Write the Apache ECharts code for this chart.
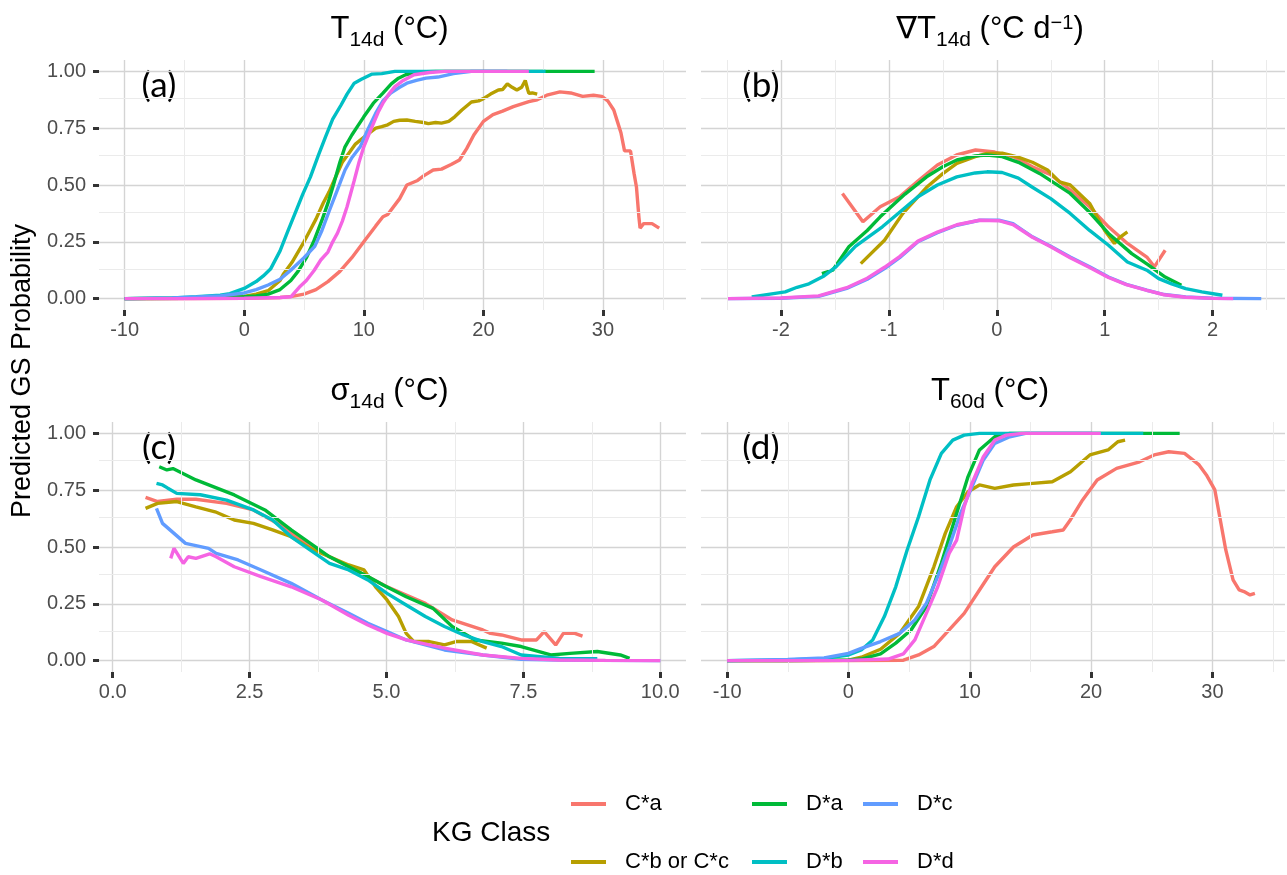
<!DOCTYPE html>
<html>
<head>
<meta charset="utf-8">
<script src="https://cdn.jsdelivr.net/npm/echarts@6/dist/echarts.min.js"></script>
<style>html,body{margin:0;padding:0;background:#fff}#c{width:1287px;height:875px}</style>
</head>
<body>
<div id="c"></div>
<script>
// ---------- categories ----------
const classes = ['C*a', 'C*b or C*c', 'D*a', 'D*b', 'D*c', 'D*d'];
const classColors = ['#F8766D', '#B79F00', '#00BA38', '#00BFC4', '#619CFF', '#F564E3'];

// ---------- tick values ----------
const yTicks = [0, 0.25, 0.5, 0.75, 1];
const yMinor = [0.125, 0.375, 0.625, 0.875];
const xTicksA = [-10, 0, 10, 20, 30];
const xMinorA = [-5, 5, 15, 25, 35];
const xTicksB = [-2, -1, 0, 1, 2];
const xMinorB = [-2.5, -1.5, -0.5, 0.5, 1.5, 2.5];
const xTicksC = [0, 2.5, 5, 7.5, 10];
const xMinorC = [1.25, 3.75, 6.25, 8.75];
const xTicksD = [-10, 0, 10, 20, 30];
const xMinorD = [-5, 5, 15, 25, 35];

// ---------- panel (a) T14d ----------
const a_Ca = [[-10,0],[-5,0],[0,0.002],[3,0.005],[4,0.01],[5,0.02],[6,0.04],[7,0.075],[8,0.12],[9,0.18],[10,0.25],[11,0.32],[11.6,0.36],[12,0.37],[13,0.44],[13.6,0.5],[14.5,0.52],[15,0.54],[15.8,0.566],[16.5,0.57],[17.3,0.59],[18,0.61],[18.6,0.66],[19.2,0.72],[20,0.78],[20.8,0.81],[21.6,0.825],[22.5,0.845],[23.8,0.867],[24.5,0.875],[25.3,0.895],[26.4,0.91],[27.3,0.905],[28.3,0.89],[29.2,0.895],[29.9,0.89],[30.4,0.87],[30.9,0.83],[31.2,0.78],[31.5,0.73],[31.8,0.65],[32.3,0.65],[32.6,0.55],[32.8,0.49],[33.0,0.36],[33.1,0.31],[33.4,0.33],[34.1,0.33],[34.7,0.31]];
const a_Cbc = [[-10,0],[-5,0.002],[-2,0.005],[0,0.01],[1,0.02],[2,0.035],[3,0.08],[3.3,0.11],[4,0.16],[5,0.25],[5.5,0.3],[6,0.35],[6.6,0.42],[7.1,0.47],[7.6,0.53],[8.2,0.6],[8.75,0.64],[9.3,0.68],[10,0.71],[10.5,0.73],[11,0.75],[11.5,0.757],[12,0.765],[12.5,0.78],[13,0.785],[13.6,0.786],[14.3,0.78],[15,0.775],[15.4,0.77],[16,0.775],[16.5,0.772],[17.1,0.78],[17.6,0.8],[18.2,0.83],[19,0.865],[19.6,0.87],[20,0.88],[20.6,0.9],[21.25,0.918],[21.6,0.92],[22,0.945],[22.4,0.93],[22.8,0.918],[23.2,0.93],[23.5,0.96],[23.7,0.92],[23.8,0.904],[24.1,0.905],[24.5,0.9]];
const a_Da = [[-10,0],[-5,0.002],[-2,0.004],[0,0.008],[1,0.012],[2,0.02],[3,0.04],[3.9,0.08],[4.5,0.12],[5.2,0.18],[5.8,0.25],[6.5,0.345],[7,0.42],[7.46,0.5],[8,0.6],[8.43,0.668],[9,0.72],[9.5,0.76],[10,0.8],[10.8,0.86],[11.6,0.904],[12.3,0.945],[12.9,0.97],[13.5,0.985],[14.5,0.997],[16,1],[20,1],[25,1],[29.3,1]];
const a_Db = [[-10,0],[-6,0.003],[-4,0.008],[-2,0.015],[-1.2,0.022],[0,0.045],[1,0.075],[1.6,0.1],[2.2,0.13],[3,0.21],[3.6,0.29],[4.26,0.376],[4.9,0.46],[5.54,0.536],[6.2,0.63],[6.8,0.712],[7.4,0.79],[8.1,0.852],[8.6,0.9],[9.2,0.948],[9.8,0.965],[10.7,0.988],[11.5,0.99],[12.6,1],[15,1],[20,1],[25.2,1]];
const a_Dc = [[-10,0],[-6,0.003],[-4,0.007],[-2,0.012],[0,0.025],[1,0.04],[2,0.06],[3,0.085],[4,0.13],[5,0.18],[5.9,0.23],[6.5,0.3],[7.14,0.39],[7.8,0.48],[8.43,0.566],[9,0.62],[9.7,0.668],[10.3,0.74],[11,0.816],[11.6,0.87],[12.25,0.905],[13,0.93],[13.6,0.948],[14.4,0.96],[15.2,0.97],[16.2,0.975],[17.5,0.99],[19,1],[22,1]];
const a_Dd = [[-10,0],[-5,0],[0,0.002],[3,0.005],[3.9,0.008],[4.6,0.05],[5.2,0.08],[5.86,0.125],[6.4,0.17],[7,0.205],[7.4,0.25],[7.8,0.288],[8.2,0.34],[8.6,0.404],[9.2,0.52],[9.6,0.6],[10,0.668],[10.4,0.72],[10.8,0.77],[11.2,0.82],[11.6,0.86],[12.1,0.9],[12.6,0.933],[13.3,0.96],[14.2,0.985],[15.5,0.995],[16.8,1],[20,1],[23.8,1]];

// ---------- panel (b) gradient T14d ----------
const b_Ca = [[-1.43,0.463],[-1.24,0.338],[-1.08,0.404],[-0.9,0.448],[-0.725,0.52],[-0.55,0.588],[-0.373,0.632],[-0.197,0.654],[-0.02,0.645],[0.155,0.624],[0.33,0.58],[0.5,0.545],[0.684,0.477],[0.86,0.404],[1.035,0.316],[1.21,0.243],[1.39,0.183],[1.46,0.14],[1.56,0.213]];
const b_Cbc = [[-1.26,0.154],[-1.04,0.257],[-0.87,0.375],[-0.65,0.49],[-0.5,0.55],[-0.37,0.595],[-0.2,0.625],[-0.09,0.639],[0.05,0.64],[0.19,0.624],[0.33,0.6],[0.47,0.566],[0.58,0.514],[0.68,0.5],[0.86,0.419],[1.0,0.3],[1.09,0.243],[1.14,0.27],[1.21,0.294]];
const b_Da = [[-1.62,0.11],[-1.52,0.125],[-1.37,0.228],[-1.2,0.3],[-1.08,0.36],[-0.85,0.46],[-0.65,0.536],[-0.5,0.58],[-0.37,0.61],[-0.2,0.628],[-0.09,0.632],[0.05,0.625],[0.2,0.6],[0.4,0.55],[0.68,0.463],[0.86,0.38],[1.035,0.287],[1.25,0.198],[1.4,0.15],[1.56,0.095],[1.71,0.059]];
const b_Db = [[-2.27,0.007],[-2.1,0.02],[-1.96,0.03],[-1.85,0.05],[-1.74,0.065],[-1.6,0.1],[-1.49,0.14],[-1.31,0.23],[-1.06,0.316],[-0.9,0.38],[-0.73,0.448],[-0.55,0.5],[-0.37,0.536],[-0.2,0.553],[-0.09,0.558],[0.05,0.555],[0.2,0.53],[0.33,0.49],[0.5,0.44],[0.68,0.375],[0.86,0.3],[1.035,0.235],[1.21,0.161],[1.39,0.125],[1.5,0.088],[1.62,0.065],[1.75,0.044],[1.9,0.03],[2.09,0.015]];
const b_Dc = [[-2.49,0],[-2.0,0.002],[-1.65,0.01],[-1.39,0.045],[-1.2,0.085],[-1.04,0.132],[-0.9,0.18],[-0.73,0.25],[-0.55,0.29],[-0.37,0.323],[-0.16,0.345],[0.02,0.345],[0.15,0.33],[0.33,0.272],[0.5,0.23],[0.68,0.183],[0.86,0.14],[1.035,0.095],[1.2,0.063],[1.39,0.037],[1.55,0.018],[1.75,0.007],[2.0,0.002],[2.45,0]];
const b_Dd = [[-2.49,0],[-2.0,0.003],[-1.65,0.012],[-1.39,0.048],[-1.2,0.09],[-1.04,0.138],[-0.9,0.185],[-0.73,0.253],[-0.55,0.293],[-0.37,0.325],[-0.16,0.345],[0.02,0.343],[0.15,0.326],[0.33,0.27],[0.5,0.228],[0.68,0.18],[0.86,0.137],[1.035,0.093],[1.2,0.062],[1.39,0.036],[1.55,0.017],[1.75,0.006],[2.0,0.001],[2.19,0]];

// ---------- panel (c) sigma14d ----------
const c_Ca = [[0.6,0.718],[0.82,0.7],[1.17,0.71],[1.52,0.71],[2.08,0.692],[2.57,0.663],[3.06,0.597],[3.61,0.501],[4.31,0.413],[5.01,0.325],[5.71,0.252],[6.2,0.179],[6.76,0.135],[6.9,0.12],[7.1,0.113],[7.46,0.091],[7.74,0.091],[7.88,0.128],[8.09,0.069],[8.23,0.12],[8.44,0.12],[8.58,0.108]];
const c_Cbc = [[0.6,0.67],[0.82,0.692],[1.17,0.7],[1.52,0.677],[1.87,0.655],[2.22,0.619],[2.57,0.604],[2.92,0.575],[3.26,0.545],[3.61,0.494],[3.96,0.457],[4.31,0.421],[4.59,0.399],[4.8,0.325],[5.01,0.267],[5.22,0.194],[5.36,0.12],[5.5,0.084],[5.78,0.084],[6.06,0.069],[6.27,0.084],[6.55,0.084],[6.83,0.055]];
const c_Da = [[0.85,0.853],[0.99,0.839],[1.1,0.845],[1.52,0.795],[2.22,0.729],[2.78,0.663],[3.26,0.575],[3.96,0.457],[4.66,0.37],[4.94,0.333],[5.36,0.281],[5.85,0.23],[6.2,0.15],[6.62,0.091],[7.1,0.077],[7.46,0.062],[8.0,0.025],[8.35,0.032],[8.85,0.04],[9.27,0.025],[9.44,0.01]];
const c_Db = [[0.8,0.78],[0.91,0.773],[1.0,0.76],[1.17,0.736],[1.6,0.73],[2.08,0.706],[2.57,0.663],[2.92,0.619],[3.26,0.545],[3.61,0.486],[3.96,0.428],[4.31,0.399],[4.66,0.355],[5.01,0.296],[5.36,0.245],[5.71,0.194],[6.06,0.15],[6.41,0.113],[6.76,0.084],[7.1,0.062],[7.46,0.025],[8.16,0.01],[8.85,0.008]];
const c_Dc = [[0.8,0.67],[0.91,0.604],[1.12,0.56],[1.33,0.516],[1.75,0.494],[1.89,0.472],[2.29,0.443],[2.71,0.399],[3.26,0.34],[3.82,0.267],[4.31,0.208],[4.66,0.164],[5.01,0.128],[5.36,0.091],[6.06,0.047],[6.76,0.025],[7.46,0.006],[8.16,0.003],[8.85,0.001],[10,0]];
const c_Dd = [[1.06,0.45],[1.12,0.494],[1.29,0.428],[1.38,0.457],[1.52,0.45],[1.77,0.47],[1.89,0.457],[2.22,0.413],[2.71,0.37],[3.26,0.325],[3.82,0.267],[4.31,0.2],[4.66,0.157],[5.01,0.12],[5.36,0.091],[6.06,0.055],[6.76,0.025],[7.46,0.01],[8.16,0.003],[9,0.001],[10,0]];

// ---------- panel (d) T60d ----------
const d_Ca = [[-10,0],[-5,0],[0,0],[4.53,0.002],[5.78,0.025],[7.04,0.062],[8.3,0.135],[9.54,0.208],[10.8,0.311],[12.06,0.413],[13.6,0.5],[15.2,0.553],[16.8,0.567],[17.7,0.575],[18.3,0.62],[19.3,0.707],[20.5,0.795],[22.1,0.846],[24,0.875],[25.2,0.905],[26.4,0.919],[27.7,0.912],[28.9,0.861],[29.5,0.817],[30.2,0.751],[30.6,0.633],[31.1,0.487],[31.7,0.355],[32.2,0.311],[32.6,0.304],[33.1,0.289],[33.5,0.296]];
const d_Cbc = [[-10,0],[-5,0],[0,0.002],[1.06,0.015],[2.65,0.05],[4.22,0.12],[5.78,0.238],[7.04,0.413],[7.98,0.56],[8.92,0.677],[9.86,0.743],[10.8,0.773],[12.06,0.758],[13.6,0.773],[15.2,0.78],[16.8,0.787],[18.3,0.831],[19.9,0.905],[21.4,0.927],[22.2,0.963],[22.8,0.97]];
const d_Da = [[-10,0],[-5,0],[0,0.003],[1.06,0.007],[2.65,0.03],[3.9,0.077],[5.16,0.135],[6.42,0.238],[7.66,0.428],[8.92,0.648],[9.86,0.81],[10.8,0.927],[12.06,0.985],[13.3,1],[20,1],[27.3,1]];
const d_Db = [[-10,0],[-5,0.003],[-2,0.01],[0,0.025],[1.06,0.047],[2,0.091],[2.96,0.194],[3.9,0.325],[4.84,0.487],[5.78,0.633],[6.72,0.795],[7.66,0.912],[8.6,0.97],[9.54,0.992],[10.8,1],[20,1],[24.3,1]];
const d_Dc = [[-10,0],[-5,0.005],[-2,0.012],[0,0.032],[1.06,0.054],[2.65,0.084],[4.22,0.12],[5.47,0.179],[6.42,0.252],[7.36,0.37],[8.3,0.501],[9.24,0.648],[10.18,0.765],[11.12,0.883],[12.06,0.956],[13.3,0.985],[14.6,1],[20,1]];
const d_Dd = [[-10,0],[-5,0],[0,0.001],[3.28,0.007],[4.53,0.03],[5.47,0.091],[6.42,0.208],[7.36,0.325],[8.3,0.472],[8.92,0.53],[9.54,0.677],[10.18,0.78],[11.12,0.897],[12.06,0.97],[13,0.992],[14.3,1],[20.8,1]];

// ---------- assembly ----------
const FONT = '"Liberation Sans", Arial, "DejaVu Sans", sans-serif';
const panelData = [
  [a_Ca, a_Cbc, a_Da, a_Db, a_Dc, a_Dd],
  [b_Ca, b_Cbc, b_Da, b_Db, b_Dc, b_Dd],
  [c_Ca, c_Cbc, c_Da, c_Db, c_Dc, c_Dd],
  [d_Ca, d_Cbc, d_Da, d_Db, d_Dc, d_Dd]
];
const xMajor = [xTicksA, xTicksB, xTicksC, xTicksD];
const xMinor = [xMinorA, xMinorB, xMinorC, xMinorD];
const xRange = [[-12.14, 36.94], [-2.74, 2.67], [-0.25, 10.47], [-12.15, 35.98]];
const xFmt = [v => String(v), v => String(v), v => v.toFixed(1), v => String(v)];
const grids = [
  {left: 99, top: 60, width: 587, height: 250},
  {left: 701, top: 60, width: 584, height: 250},
  {left: 99, top: 422, width: 587, height: 250},
  {left: 701, top: 422, width: 584, height: 250}
];
const MAJOR = '#D4D4D4', MINOR = '#EBEBEB';
const TICK_COLOR = '#333333';

const xAxis = [], yAxis = [], series = [];
for (let i = 0; i < 4; i++) {
  const left = (i % 2 === 0);
  xAxis.push({
    gridIndex: i, type: 'value', min: xRange[i][0], max: xRange[i][1], position: 'bottom',
    axisLine: {show: false, onZero: false},
    axisTick: {show: true, customValues: xMajor[i], length: 6, lineStyle: {color: TICK_COLOR, width: 3}},
    axisLabel: {customValues: xMajor[i], formatter: xFmt[i], color: '#4D4D4D', fontSize: 20, margin: 10},
    splitLine: {show: true, lineStyle: {color: MAJOR, width: 1.4}}
  });
  yAxis.push({
    gridIndex: i, type: 'value', min: -0.05, max: 1.05, position: 'left',
    axisLine: {show: false, onZero: false},
    axisTick: {show: left, customValues: yTicks, length: 6, lineStyle: {color: TICK_COLOR, width: 3}},
    axisLabel: {show: left, customValues: yTicks, formatter: v => v.toFixed(2), color: '#4D4D4D', fontSize: 20, margin: 13},
    splitLine: {show: true, lineStyle: {color: MAJOR, width: 1.4}}
  });
  // minor grid lines, drawn through the panel's own axes
  series.push({
    type: 'line', xAxisIndex: i, yAxisIndex: i, data: [], silent: true, z: 1,
    symbol: 'none', lineStyle: {opacity: 0},
    markLine: {
      silent: true, symbol: ['none', 'none'], animation: false,
      label: {show: false},
      lineStyle: {color: MINOR, width: 1, type: 'solid'},
      emphasis: {disabled: true},
      data: yMinor.map(v => ({yAxis: v})).concat(xMinor[i].map(v => ({xAxis: v})))
    }
  });
  for (let k = 0; k < classes.length; k++) {
    series.push({
      name: classes[k], type: 'line', xAxisIndex: i, yAxisIndex: i,
      data: panelData[i][k], showSymbol: false, symbol: 'none',
      color: classColors[k],
      lineStyle: {color: classColors[k], width: 3.4},
      z: 2 + k, animation: false
    });
  }
}

const rich = {
  m: {fontSize: 31, lineHeight: 31, verticalAlign: 'top', fontFamily: FONT, color: '#1A1A1A'},
  s: {fontSize: 21, lineHeight: 21, padding: [16, 0, 0, 0], verticalAlign: 'top', fontFamily: FONT, color: '#1A1A1A'},
  p: {fontSize: 20, lineHeight: 20, verticalAlign: 'top', fontFamily: FONT, color: '#1A1A1A'}
};
const stripTitles = [
  '{m|T}{s|14d}{m| (°C)}',
  '{m|∇T}{s|14d}{m| (°C d}{p|−1}{m|)}',
  '{m|σ}{s|14d}{m| (°C)}',
  '{m|T}{s|60d}{m| (°C)}'
];
const panelTags = ['(a)', '(b)', '(c)', '(d)'];
const graphic = [];
for (let i = 0; i < 4; i++) {
  const g = grids[i];
  graphic.push({
    type: 'text', x: g.left + g.width / 2 - 3, y: g.top - 31,
    style: {text: stripTitles[i], rich: rich, align: 'center', verticalAlign: 'middle'}
  });
  graphic.push({
    type: 'text', x: g.left + 60, y: g.top + 26,
    style: {text: panelTags[i], font: '35px Lato, "Open Sans", sans-serif', fill: '#000', align: 'center', verticalAlign: 'middle'}
  });
}
graphic.push({
  type: 'text', x: 23, y: 371, rotation: Math.PI / 2,
  style: {text: 'Predicted GS Probability', font: '27px ' + FONT, fill: '#000', align: 'center', verticalAlign: 'middle'}
});
graphic.push({
  type: 'text', x: 432, y: 833,
  style: {text: 'KG Class', font: '28px ' + FONT, fill: '#000', align: 'left', verticalAlign: 'middle'}
});

const legendBase = {
  orient: 'vertical', top: 792, height: 84, padding: 0, icon: 'rect', itemWidth: 35, itemHeight: 4, itemGap: 34,
  selectedMode: false,
  textStyle: {fontSize: 22, lineHeight: 24, color: '#000', fontFamily: FONT, padding: [0, 0, 0, 14]}
};
const legend = [
  Object.assign({}, legendBase, {left: 571, data: [classes[0], classes[1]]}),
  Object.assign({}, legendBase, {left: 752, data: [classes[2], classes[3]]}),
  Object.assign({}, legendBase, {left: 863, data: [classes[4], classes[5]]})
];

const chart = echarts.init(document.getElementById('c'));
chart.setOption({
  textStyle: {fontFamily: FONT},
  animation: false,
  grid: grids,
  xAxis: xAxis,
  yAxis: yAxis,
  series: series,
  legend: legend,
  graphic: graphic
});
</script>
</body>
</html>
